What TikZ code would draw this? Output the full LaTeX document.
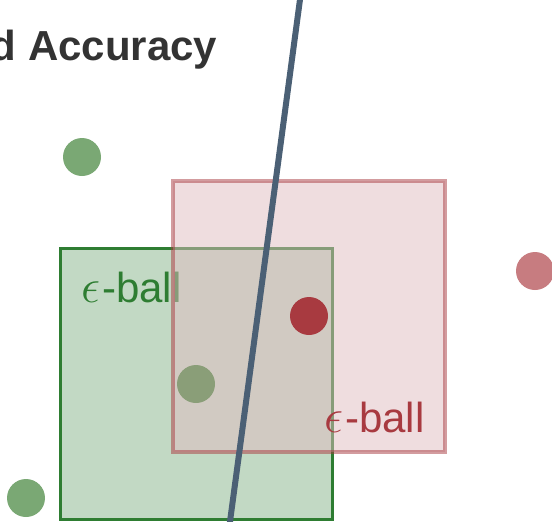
\documentclass[tikz,border=0pt]{standalone}
\usepackage{fontspec}
\setmainfont{Liberation Sans}
\usetikzlibrary{positioning}

\definecolor{ballgreen}{RGB}{46,125,50}
\definecolor{ballred}{RGB}{168,58,64}
\definecolor{ballpink}{RGB}{224,188,192}
\definecolor{ptgreen}{RGB}{122,168,116}
\definecolor{ptred}{RGB}{199,124,128}
\definecolor{cleangreen}{RGB}{52,128,48}
\definecolor{boundary}{RGB}{75,96,117}
\definecolor{titlegray}{RGB}{51,51,51}

\newcommand{\epsball}{\scalebox{1.45}{$\epsilon$}\kern1.5pt-ball}

\begin{document}
\begin{tikzpicture}[
    x=0.75pt, y=-0.75pt,
    titletext/.style={
        font=\fontsize{31.5}{36}\selectfont\bfseries, text=titlegray,
        inner sep=0pt, anchor=base west
    },
    balllabel/.style={
        font=\fontsize{31.5}{36}\selectfont, text=#1,
        inner sep=0pt, anchor=base west
    },
    ballbox/.style={
        rectangle, inner sep=0pt, minimum width=204pt, minimum height=203.25pt
    },
    point/.style={
        circle, fill=#1, inner sep=0pt, minimum size=28.5pt
    },
    boundaryline/.style={line width=4.5pt, draw=boundary}
]

\useasboundingbox (0,0) rectangle (552,521);
\clip (0,0) rectangle (552,521);

% Title, cut at the left edge
\node[titletext] (title) at (-9.4,60) {d Accuracy};

% Green epsilon-ball around the clean point
\node[ballbox, fill=ballgreen, fill opacity=0.29, draw=ballgreen, line width=2.25pt]
    (gball) at (196,383.5) {};
\node[balllabel=ballgreen] (glabel) at (81,302) {\epsball};
\node[point=cleangreen] (gclean) at (196,384) {};

% Red epsilon-ball drawn over it
\node[ballbox, fill=ballpink, fill opacity=0.5, draw=ballred, draw opacity=0.5, line width=3pt]
    (rball) at (309,316.5) {};
\node[point=ballred] (rclean) at (309,316) {};

% Other samples
\node[point=ptgreen] (gpt1) at (82,157) {};
\node[point=ptgreen] (gpt2) at (26,498) {};
\node[point=ptred]   (rpt1) at (535,271) {};

% Decision boundary
\coordinate (btop) at (301,-8);
\coordinate (bbot) at (229,529);
\draw[boundaryline] (btop) -- (bbot);

\node[balllabel=ballred] (rlabel) at (324,432) {\epsball};

\end{tikzpicture}
\end{document}
